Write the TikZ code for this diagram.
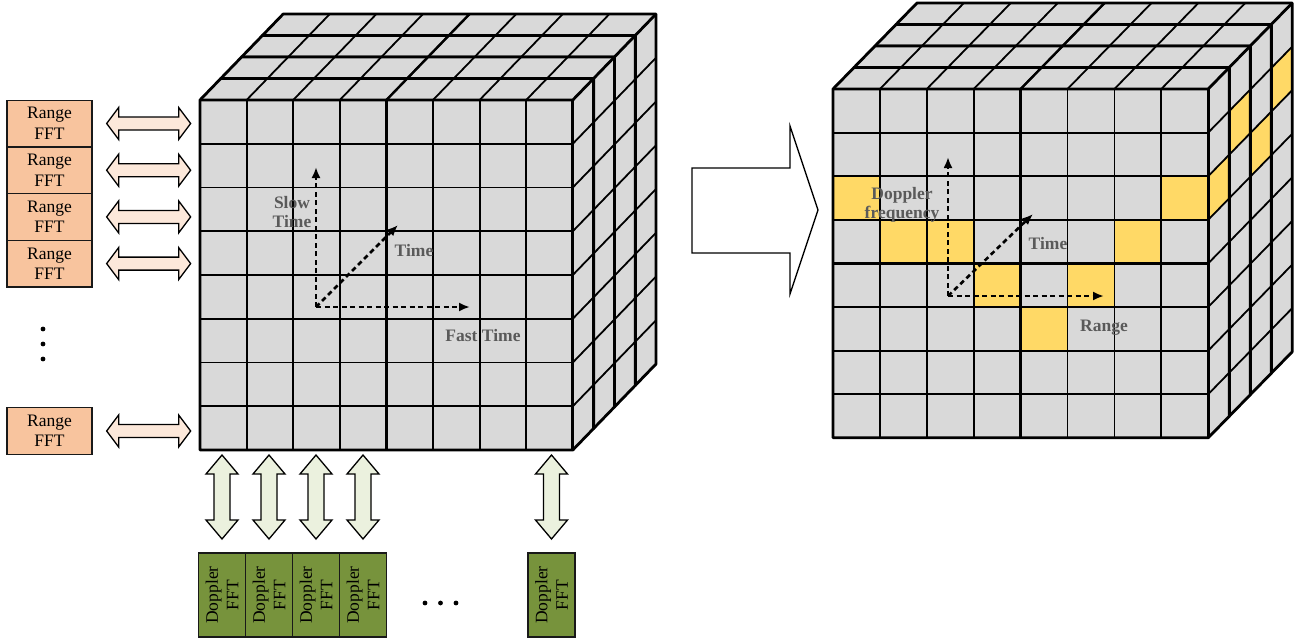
\documentclass[tikz,border=0pt]{standalone}
\usepackage{fontspec}
\setmainfont{Liberation Serif}
\usetikzlibrary{arrows.meta,calc}
\definecolor{cellgray}{RGB}{217,217,217}
\definecolor{cellyel}{RGB}{255,217,102}
\definecolor{rngfill}{RGB}{248,196,158}
\definecolor{rngarrow}{RGB}{252,232,218}
\definecolor{dopfill}{RGB}{119,147,60}
\definecolor{doparrow}{RGB}{235,241,222}
\definecolor{lblgray}{RGB}{90,90,90}

% #1 X0, #2 Y0, #3 w, #4 h, #5 dx, #6 dy, #7 hook (per slab, after fills)
\newcommand\mycube[7]{%
  \foreach \k in {3,2,1,0}{%
    \pgfmathsetmacro\fx{#1+\k*(#5)}%
    \pgfmathsetmacro\fy{#2+\k*(#6)}%
    \coordinate (F) at (\fx,\fy);
    \fill[cellgray] (F) rectangle ++(8*#3,8*#4);
    \fill[cellgray] (F) -- ++(8*#3,0) -- ++(#5,#6) -- ++(-8*#3,0) -- cycle;
    \fill[cellgray] ($(F)+(8*#3,0)$) -- ++(#5,#6) -- ++(0,8*#4) -- ($(F)+(8*#3,8*#4)$) -- cycle;
    #7
    \foreach \i in {1,...,7}{\draw[gridln] ($(F)+(\i*#3,0)$) -- ++(0,8*#4);}
    \foreach \j in {1,...,7}{\draw[gridln] ($(F)+(0,\j*#4)$) -- ++(8*#3,0);}
    \foreach \i in {1,...,7}{\draw[gridln] ($(F)+(\i*#3,0)$) -- ++(#5,#6);}
    \foreach \j in {1,...,7}{\draw[gridln] ($(F)+(8*#3,\j*#4)$) -- ++(#5,#6);}
    \draw[midln] ($(F)+(4*#3,0)$) -- ++(0,8*#4);
    \draw[midln] ($(F)+(0,4*#4)$) -- ++(8*#3,0);
    \draw[midln] ($(F)+(4*#3,0)$) -- ++(#5,#6);
    \draw[slabln] (F) -- ++(#5,#6) -- ++(8*#3,0) -- ++(0,8*#4) -- ($(F)+(8*#3,8*#4)$) -- ($(F)+(0,8*#4)$) -- cycle;
    \draw[slabln] (F) -- ++(8*#3,0) -- ++(#5,#6);
    \draw[slabln] ($(F)+(8*#3,0)$) -- ++(0,8*#4);
  }%
}

\newcommand\hdarrow[1]{%
  \path ($(#1.east)+(14,0)$) coordinate (hA);
  \filldraw[fill=rngarrow,draw=black,line width=1.3pt,line join=miter]
    (hA) -- ++(12,-16) -- ++(0,9.5) -- ++(60,0) -- ++(0,-9.5) -- ++(12,16)
    -- ++(-12,16) -- ++(0,-9.5) -- ++(-60,0) -- ++(0,9.5) -- cycle;}

\newcommand\vdarrow[1]{%
  \path (#1.center) ++(0,-140) coordinate (vA);
  \filldraw[fill=doparrow,draw=black,line width=1.3pt,line join=miter]
    (vA) -- ++(16,19) -- ++(-8,0) -- ++(0,46) -- ++(8,0) -- ++(-16,19)
    -- ++(-16,-19) -- ++(8,0) -- ++(0,-46) -- ++(-8,0) -- cycle;}

\tikzset{
  gridln/.style={line width=1.8pt},
  midln/.style={line width=2.4pt},
  slabln/.style={line width=2.8pt,line join=round},
  rngbox/.style={draw=black!90,line width=1.3pt,fill=rngfill,minimum width=85pt,minimum height=46.7pt,inner sep=0pt,align=center,font=\fontsize{17.5}{20.5}\selectfont},
  dopbox/.style={draw=black!90,line width=1.3pt,fill=dopfill,rotate=90,minimum width=84pt,minimum height=47pt,inner sep=0pt,align=center,font=\fontsize{17.5}{20.5}\selectfont},
  axis/.style={line width=2.6pt,dash pattern=on 5pt off 3.5pt,-{Latex[length=11pt,width=9pt]}},
  lbl/.style={text=lblgray,font=\fontsize{17.5}{19.5}\selectfont\bfseries,align=center,inner sep=0pt},
}

\begin{document}
\begin{tikzpicture}[x=1pt,y=-1pt]
\useasboundingbox (0,0) rectangle (1298,643);

% left cube
\mycube{200}{100}{46.6}{43.75}{20.8}{-21.5}{}

% right cube
\mycube{833}{89}{46.9}{43.6}{21}{-21.5}{%
  \ifnum\k=0
    \foreach \cc/\rr in {1/3,8/3,2/4,3/4,7/4,4/5,6/5,5/6}{\fill[cellyel] ($(F)+({(\cc-1)*46.9},{(\rr-1)*43.6})$) rectangle ++(46.9,43.6);}
  \fi
  \pgfmathtruncatemacro\yr{mod(\k,2)==0 ? 2 : 1}%
  \fill[cellyel] ($(F)+(8*46.9,\yr*43.6)$) -- ++(21,-21.5) -- ++(0,43.6) -- ++(-21,21.5) -- cycle;
}

% Range FFT boxes
\node[rngbox] (r1) at (49.5,123.5) {Range\\FFT};
\node[rngbox] (r2) at (49.5,170.2) {Range\\FFT};
\node[rngbox] (r3) at (49.5,216.9) {Range\\FFT};
\node[rngbox] (r4) at (49.5,263.6) {Range\\FFT};
\node[rngbox] (r5) at (49.5,431) {Range\\FFT};
\foreach \n in {r1,r2,r3,r4,r5}{\hdarrow{\n}}
\foreach \yy in {329,344,359}{\fill (43,\yy) circle (2.4);}

% Doppler FFT boxes
\node[dopbox] (d1) at (222,595) {Doppler\\FFT};
\node[dopbox] (d2) at (269,595) {Doppler\\FFT};
\node[dopbox] (d3) at (316,595) {Doppler\\FFT};
\node[dopbox] (d4) at (363,595) {Doppler\\FFT};
\node[dopbox] (d5) at (551.5,595) {Doppler\\FFT};
\foreach \n in {d1,d2,d3,d4,d5}{\vdarrow{\n}}
\foreach \xx in {425,440.5,456}{\fill (\xx,603) circle (2.4);}

% left axes
\coordinate (lo) at (316,307);
\coordinate (lu) at (316,167);
\coordinate (lr) at (470,307);
\coordinate (ld) at (398,225);
\draw[axis] (lo) -- (lu);
\draw[axis] (lo) -- (lr);
\draw[axis] (lo) -- (ld);
\node[lbl] (slow) at (292,212) {Slow\\Time};
\node[lbl] (ltime) at (414,251) {Time};
\node[lbl] (fast) at (483,336) {Fast Time};

% right axes
\coordinate (ro) at (948,296);
\coordinate (ru) at (948,157);
\coordinate (rr) at (1104,296);
\coordinate (rd) at (1033,214);
\draw[axis] (ro) -- (ru);
\draw[axis] (ro) -- (rr);
\draw[axis] (ro) -- (rd);
\node[lbl] (dopf) at (902,205) {Doppler\\frequency};
\node[lbl] (rtime) at (1048,244) {Time};
\node[lbl] (range) at (1104,328) {Range};

% big hollow arrow
\draw[line width=1.3pt,fill=white] (692,168) -- (790,168) -- (790,126) -- (818,210) -- (790,294) -- (790,253) -- (692,253) -- cycle;
\end{tikzpicture}
\end{document}
